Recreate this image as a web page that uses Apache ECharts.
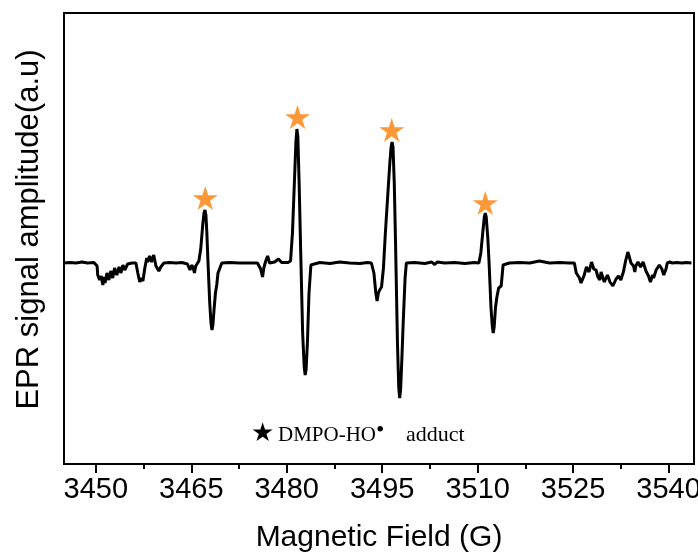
<!DOCTYPE html>
<html>
<head>
<meta charset="utf-8">
<script src="https://cdn.jsdelivr.net/npm/echarts@6/dist/echarts.min.js"></script>
<style>html,body{margin:0;padding:0;background:#fff;}#c{width:698px;height:555px;}</style>
</head>
<body>
<div id="c"></div>
<script>
// Magnetic field (G)
const field = [
3445.0,3445.9,3446.9,3447.8,3448.7,3449.7,3450.2,3450.3,3450.6,3450.85,3451.1,3451.3,3451.45,3451.6,3451.75,3451.9,3452.05,3452.2,3452.35,3452.5,3452.65,3452.8,3452.95,3453.1,3453.3,3453.5,3453.65,3453.8,3453.95,3454.1,3454.25,3454.4,3454.55,3454.7,3455.0,3455.7,3456.3,3456.6,3456.9,3457.15,3457.4,3457.7,3458.0,3458.15,3458.3,3458.45,3458.6,3458.75,3458.9,3459.1,3459.3,3459.45,3459.6,3459.9,3460.2,3460.7,3461.6,3462.6,3463.5,3464.4,3464.8,3465.1,3465.3,3465.5,3465.7,3465.9,3466.2,
3466.5,3466.8,3467.0,3467.15,3467.3,3467.45,3467.6,3467.9,3468.1,3468.25,3468.4,3468.6,3468.8,3469.0,3469.2,3469.5,3469.8,
3471.0,3472.6,3474.2,3475.4,3475.9,3476.2,3476.4,3476.7,3477.0,3477.3,3478.1,3478.7,3479.2,3480.2,3480.6,
3480.9,3481.2,3481.45,3481.6,3481.75,3481.95,3482.2,3482.5,3482.75,3482.9,3483.05,3483.25,3483.5,3483.8,3484.1,
3485.2,3486.8,3488.3,3489.9,3491.5,3492.7,3493.3,
3493.7,3494.0,3494.2,3494.4,3494.6,3494.9,3495.2,3495.5,3495.9,3496.2,3496.4,3496.55,3496.7,3496.9,3497.1,3497.4,3497.6,3497.75,3497.9,3498.1,3498.3,3498.6,3498.8,
3500.1,3501.7,3502.8,3503.2,3503.7,3504.8,3506.4,3508.0,3509.5,3510.2,
3510.5,3510.8,3511.05,3511.2,3511.35,3511.6,3511.8,3512.1,3512.3,3512.45,3512.6,3512.8,3513.0,3513.3,3513.7,3514.0,3514.2,
3515.0,3516.6,3518.2,3519.7,3521.3,3522.9,3524.4,3525.2,
3525.5,3525.75,3526.0,3526.25,3526.5,3526.7,3526.9,3527.1,3527.3,3527.5,3527.7,3527.9,3528.1,3528.25,3528.4,3528.6,3528.9,3529.2,3529.4,3529.6,3529.9,3530.2,3530.4,3530.6,3530.8,3531.0,3531.25,3531.5,3531.75,3532.0,3532.15,3532.3,3532.5,3532.7,3532.9,3533.1,3533.25,3533.4,3533.6,3533.75,3533.9,3534.1,3534.3,3534.5,3534.7,3534.85,3535.0,3535.2,3535.4,3535.6,3535.8,3536.0,3536.2,3536.45,3536.7,3536.85,3537.0,3537.15,3537.3,3537.5,3537.65,3537.8,3538.05,3538.3,3538.55,3538.8,3538.95,3539.1,3539.25,3539.4,3539.6,3539.8,3540.2,3540.6,3541.3,3542.1,3542.8,3543.6,3544.0
];
// EPR signal amplitude (a.u.)
const amplitude = [
0,0.5,0,1,0,0.5,-3,-12,-17,-13,-22,-14,-20,-18,-10,-11,-17,-15,-8,-9,-15,-13,-5,-6,-12,-11,-4,-5,-10,-9,-2,-3,-7,-6,-1,0,0,-10,-19,-15,-18,-5,5,1,0,7,6,1,2,8,7,-3,-2,-8,-4,0,0.5,0,0.5,-1,-7,-2,-5,-10,-3,-4,2,
15,38,50,53,48,30,5,-40,-60,-67,-62,-45,-30,-22,-10,-5,0,
0.5,0,0,0,-6,-14,-5,2,7,0,1,4,0.5,0.5,2,
30,80,122,134,126,80,10,-70,-104,-112,-106,-80,-30,-2,0,
0.5,-0.5,1,0,-0.5,0.5,0,
-10,-30,-38,-30,-27,-24,-5,30,70,100,116,121,116,80,20,-80,-124,-135,-126,-95,-60,-15,0,
0.5,-0.5,1,-1.5,1,0,0.5,-0.5,0.5,0,
10,30,46,50,46,25,0,-45,-63,-70,-64,-45,-35,-25,-23,-2,0,
0,0.5,0,2,0,0.5,0,0,
-10,-8,-15,-20,-22,-13,-12,-4,-4,-9,-8,1,0,-6,-5,-7,-14,-17,-9,-10,-19,-20,-12,-13,-19,-17,-23,-25,-16,-18,-13,-14,-17,-16,-9,-10,2,4,11,8,6,0,1,-3,-9,-3,-2,1,1,-4,-3,1,0,-8,-9,-13,-14,-19,-17,-12,-15,-14,-7,-8,-2,-3,-6,-8,-12,-10,-6,0,1,0,0.5,0,0.5,0
];
// Orange star markers above the four DMPO-OH lines
const starField = [3467.2, 3481.7, 3496.5, 3511.2];
const starAmp = [65, 146, 133, 60];
// Axis ticks
const majorTicks = [3450, 3465, 3480, 3495, 3510, 3525, 3540];
const minorTicks = [3457.5, 3472.5, 3487.5, 3502.5, 3517.5, 3532.5];

const lineData = field.map((f, i) => [f, amplitude[i]]);
const starData = starField.map((f, i) => [f, starAmp[i]]);
const starPath = 'path://M50,0 L61.2,34.5 L97.6,34.5 L68.2,55.9 L79.4,90.5 L50,69.1 L20.6,90.5 L31.8,55.9 L2.4,34.5 L38.8,34.5 Z';
const FONT = 'Liberation Sans, Arial, sans-serif';

const chart = echarts.init(document.getElementById('c'), null, {renderer: 'canvas'});
chart.setOption({
  animation: false,
  backgroundColor: '#fff',
  grid: {left: 64, right: 4, top: 13, bottom: 91, show: true, borderColor: '#000', borderWidth: 2,
         backgroundColor: 'transparent', outerBoundsMode: 'none', containLabel: false},
  xAxis: [{
    type: 'value', min: 3445, max: 3544, position: 'bottom',
    axisLine: {show: true, onZero: false, lineStyle: {color: '#000', width: 2}},
    axisTick: {show: true, inside: false, length: 9, customValues: majorTicks, lineStyle: {color: '#000', width: 2}},
    axisLabel: {show: true, customValues: majorTicks, color: '#000', fontSize: 29, fontFamily: FONT, margin: 11,
                formatter: v => String(v), hideOverlap: false},
    splitLine: {show: false},
    name: 'Magnetic Field (G)', nameLocation: 'middle', nameGap: 59,
    nameTextStyle: {color: '#000', fontSize: 30, fontFamily: FONT}
  }, {
    type: 'value', min: 3445, max: 3544, position: 'bottom',
    axisLine: {show: false, onZero: false},
    axisTick: {show: true, inside: false, length: 5, customValues: minorTicks, lineStyle: {color: '#000', width: 2}},
    axisLabel: {show: false},
    splitLine: {show: false}
  }],
  yAxis: {
    type: 'value', min: -201, max: 250,
    axisLine: {show: false}, axisTick: {show: false}, axisLabel: {show: false}, splitLine: {show: false},
    name: 'EPR signal amplitude(a.u)', nameLocation: 'middle', nameGap: 19,
    nameTextStyle: {color: '#000', fontSize: 31, fontFamily: FONT, padding: [0, 0, 0, 18]}
  },
  series: [{
    type: 'line', data: lineData, xAxisIndex: 0, showSymbol: false, symbol: 'none',
    lineStyle: {color: '#000', width: 3}, smooth: false, z: 3
  }, {
    type: 'scatter', data: starData, xAxisIndex: 0, symbol: starPath, symbolSize: [25, 24],
    itemStyle: {color: '#FA7F08'}, z: 4
  }],
  graphic: [
    {type: 'text', left: 251, top: 421, style: {text: '★', font: '26px "DejaVu Sans"', fill: '#000'}},
    {type: 'text', left: 278, top: 425, style: {text: 'DMPO-HO', font: '21px "Liberation Serif", "Times New Roman", serif', fill: '#000'}},
    {type: 'text', left: 376, top: 419, style: {text: '•', font: '24px "Liberation Serif", "Times New Roman", serif', fill: '#000'}},
    {type: 'text', left: 406, top: 424, style: {text: 'adduct', font: '22px "Liberation Serif", "Times New Roman", serif', fill: '#000'}}
  ]
});
</script>
</body>
</html>
